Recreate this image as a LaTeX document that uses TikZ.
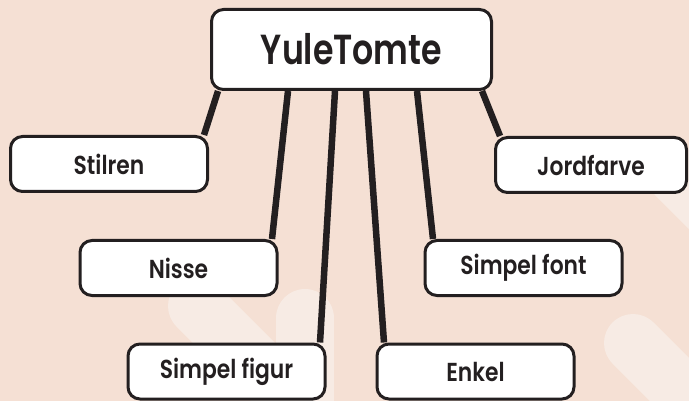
\documentclass[tikz,border=0pt]{standalone}
\usepackage{fontspec}
\newfontfamily\labelfont{Poppins}[UprightFont={* SemiBold}, FakeStretch=0.84]
\newfontfamily\rootfont{Poppins}[UprightFont={* SemiBold}, FakeStretch=0.79]
\usetikzlibrary{backgrounds}
\definecolor{paper}{HTML}{F5E0D4}
\definecolor{streak}{HTML}{F7EBE4}
\definecolor{ink}{HTML}{231F20}
\tikzset{
  band/.style={draw=streak, line width=58pt, line cap=round},
  labelbox/.style={draw=ink, fill=white, line width=3pt, rounded corners=12pt,
    minimum width=197pt, minimum height=55pt, inner sep=0pt, text=ink,
    font=\labelfont\fontsize{26}{26}\selectfont},
  rootbox/.style={labelbox, minimum width=280pt, minimum height=80pt,
    font=\rootfont\fontsize{42}{42}\selectfont},
  link/.style={draw=ink, line width=6.5pt}
}
\begin{document}
\begin{tikzpicture}[x=1pt, y=-1pt]
  \useasboundingbox (0,0) rectangle (689,401);
  % backdrop with soft diagonal streaks
  \begin{pgfonlayer}{background}
    \begin{scope}
      \clip (0,0) rectangle (689,401);
      \fill[paper] (0,0) rectangle (689,401);
      \draw[band] (197,306) -- (397,506);
      \draw[band] (305,318) -- (305,520);
      \draw[band] (633,343) -- (833,543);
      \draw[band] (676,175) -- (876,375);
    \end{scope}
  \end{pgfonlayer}

  % boxes
  \node[rootbox]  (root)   at (351.5,49.5) {YuleTomte};
  \node[labelbox] (stilren) at (109,164)   {Stilren};
  \node[labelbox, minimum width=191pt] (jord) at (591,165) {Jordfarve};
  \node[labelbox] (nisse)  at (178.5,268)  {Nisse};
  \node[labelbox] (sfont)  at (523.5,268)  {Simpel font};
  \node[labelbox] (sfigur) at (226.5,371.5) {Simpel figur};
  \node[labelbox] (enkel)  at (475.5,371.5) {Enkel};

  % connectors, under the boxes
  \begin{pgfonlayer}{background}
    \draw[link] ([xshift=-133.5pt]root.south) -- ([xshift=95pt]stilren.north);
    \draw[link] ([xshift=-63.5pt]root.south)  -- ([xshift=93.5pt]nisse.north);
    \draw[link] ([xshift=-16.5pt]root.south)  -- ([xshift=93.5pt]sfigur.north);
    \draw[link] ([xshift=14.5pt]root.south)   -- ([xshift=-91.5pt]enkel.north);
    \draw[link] ([xshift=65.5pt]root.south)   -- ([xshift=-90.5pt]sfont.north);
    \draw[link] ([xshift=130.5pt]root.south)  -- ([xshift=-91pt]jord.north);
  \end{pgfonlayer}
\end{tikzpicture}
\end{document}
